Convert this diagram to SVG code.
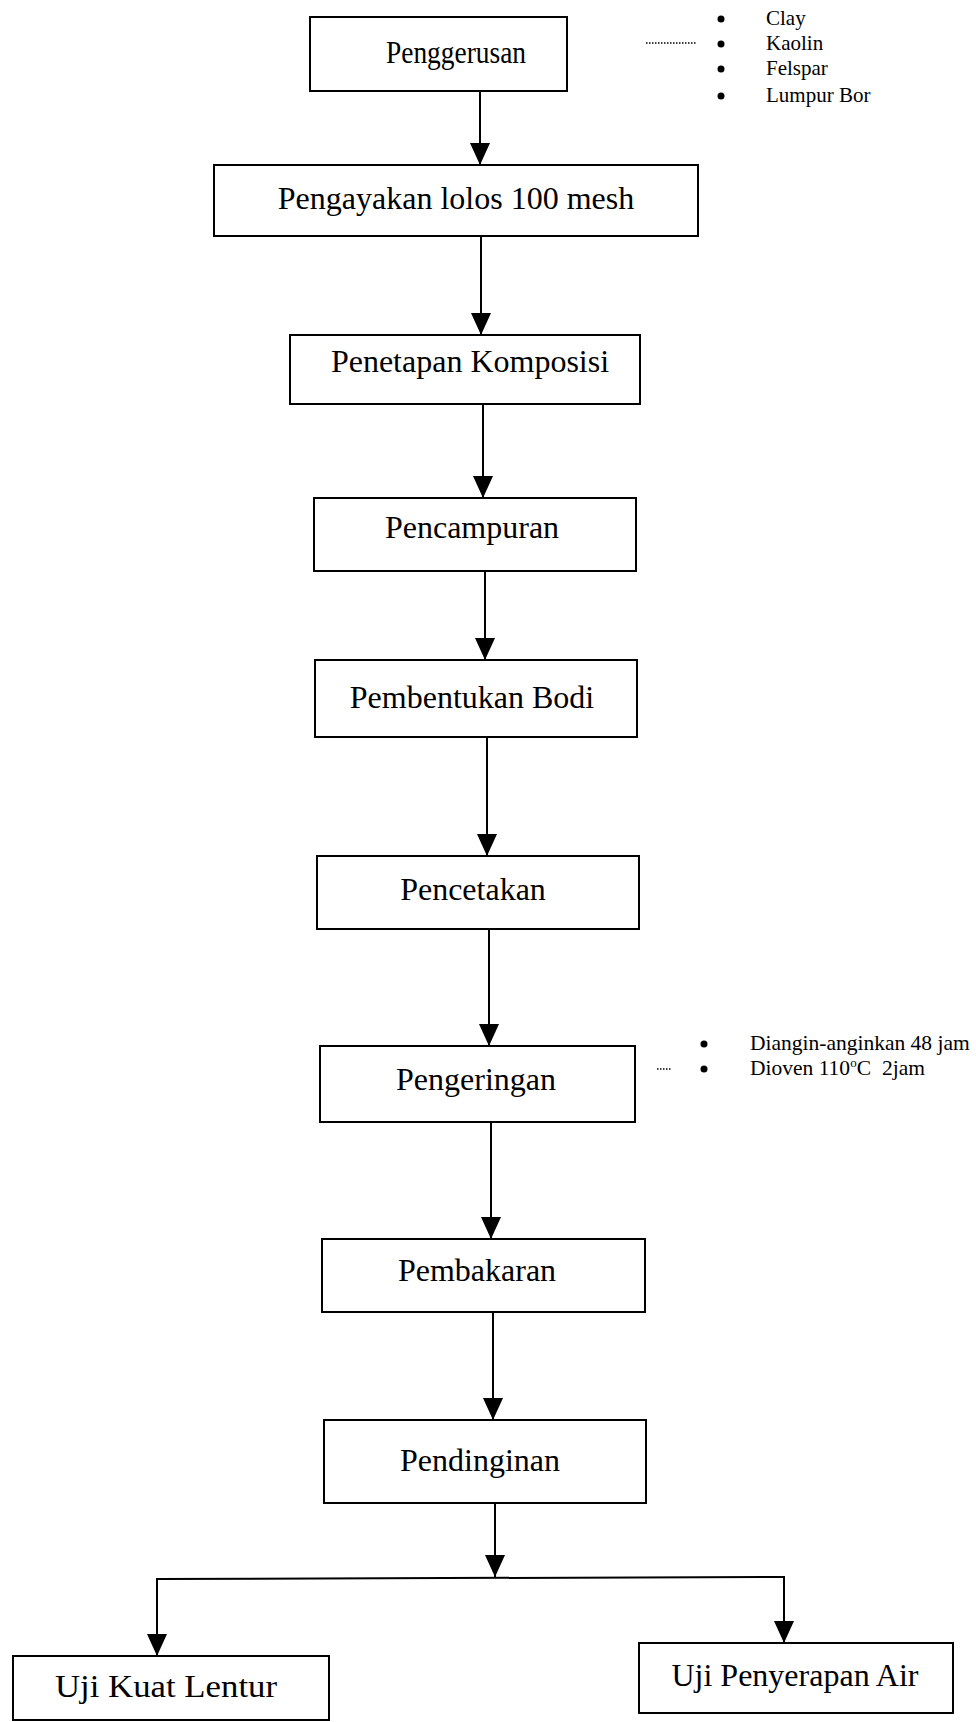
<svg xmlns="http://www.w3.org/2000/svg" width="976" height="1722" viewBox="0 0 976 1722">
<style>
.box{fill:#fff;stroke:#000;stroke-width:2}
.lbl{font-family:"Liberation Serif","Times New Roman",serif;font-size:32px;fill:#000;text-anchor:middle}
.note{font-family:"Liberation Serif","Times New Roman",serif;font-size:21px;fill:#000}
.note2{font-family:"Liberation Serif","Times New Roman",serif;font-size:21.5px;fill:#000}
.ln{fill:none;stroke:#000;stroke-width:2}
.dot{fill:none;stroke:#000;stroke-width:1.5;stroke-dasharray:1.5 1.5}
</style>
<defs>
<marker id="ah" markerUnits="userSpaceOnUse" markerWidth="22" markerHeight="20" refX="22" refY="10" orient="auto">
<path d="M0,0 L22,10 L0,20 z" fill="#000"/>
</marker>
</defs>
<rect width="976" height="1722" fill="#fff"/>
<g id="connectors">
<line class="ln" x1="480" y1="91" x2="480" y2="165" marker-end="url(#ah)"/>
<line class="ln" x1="481" y1="236" x2="481" y2="335" marker-end="url(#ah)"/>
<line class="ln" x1="483" y1="404" x2="483" y2="498" marker-end="url(#ah)"/>
<line class="ln" x1="485" y1="571" x2="485" y2="660" marker-end="url(#ah)"/>
<line class="ln" x1="487" y1="737" x2="487" y2="856" marker-end="url(#ah)"/>
<line class="ln" x1="489" y1="929" x2="489" y2="1046" marker-end="url(#ah)"/>
<line class="ln" x1="491" y1="1122" x2="491" y2="1239" marker-end="url(#ah)"/>
<line class="ln" x1="493" y1="1312" x2="493" y2="1420" marker-end="url(#ah)"/>
<line class="ln" x1="495" y1="1503" x2="495" y2="1577" marker-end="url(#ah)"/>
<polyline class="ln" points="157,1656 157,1579 784,1577 784,1643"/>
<line class="ln" x1="157" y1="1600" x2="157" y2="1656" marker-end="url(#ah)"/>
<line class="ln" x1="784" y1="1600" x2="784" y2="1643" marker-end="url(#ah)"/>
<line class="dot" x1="646" y1="43" x2="696" y2="43"/>
<line class="dot" x1="657" y1="1069" x2="672" y2="1069"/>
</g>
<g id="n1"><rect class="box" x="310" y="17" width="257" height="74"/><text class="lbl" x="456" y="63" textLength="140" lengthAdjust="spacingAndGlyphs">Penggerusan</text></g>
<g id="n1notes">
<circle cx="721" cy="19" r="3.5"/><circle cx="721" cy="44" r="3.5"/><circle cx="721" cy="69" r="3.5"/><circle cx="721" cy="96" r="3.5"/>
<text class="note" x="766" y="25">Clay</text>
<text class="note" x="766" y="50">Kaolin</text>
<text class="note" x="766" y="75">Felspar</text>
<text class="note" x="766" y="102">Lumpur Bor</text>
</g>
<g id="n2"><rect class="box" x="214" y="165" width="484" height="71"/><text class="lbl" x="456" y="209">Pengayakan lolos 100 mesh</text></g>
<g id="n3"><rect class="box" x="290" y="335" width="350" height="69"/><text class="lbl" x="470" y="372">Penetapan Komposisi</text></g>
<g id="n4"><rect class="box" x="314" y="498" width="322" height="73"/><text class="lbl" x="472" y="538">Pencampuran</text></g>
<g id="n5"><rect class="box" x="315" y="660" width="322" height="77"/><text class="lbl" x="472" y="708">Pembentukan Bodi</text></g>
<g id="n6"><rect class="box" x="317" y="856" width="322" height="73"/><text class="lbl" x="473" y="900">Pencetakan</text></g>
<g id="n7"><rect class="box" x="320" y="1046" width="315" height="76"/><text class="lbl" x="476" y="1090">Pengeringan</text></g>
<g id="n7notes">
<circle cx="704" cy="1044" r="3.5"/><circle cx="704" cy="1069" r="3.5"/>
<text class="note2" x="750" y="1050">Diangin-anginkan 48 jam</text>
<text class="note2" x="750" y="1075">Dioven 110<tspan font-size="13" dy="-8">o</tspan><tspan dy="8">C</tspan><tspan dx="11">2jam</tspan></text>
</g>
<g id="n8"><rect class="box" x="322" y="1239" width="323" height="73"/><text class="lbl" x="477" y="1281">Pembakaran</text></g>
<g id="n9"><rect class="box" x="324" y="1420" width="322" height="83"/><text class="lbl" x="480" y="1471">Pendinginan</text></g>
<g id="nL"><rect class="box" x="13" y="1656" width="316" height="64"/><text class="lbl" x="166" y="1697" textLength="222" lengthAdjust="spacingAndGlyphs">Uji Kuat Lentur</text></g>
<g id="nR"><rect class="box" x="639" y="1643" width="314" height="70"/><text class="lbl" x="795" y="1686">Uji Penyerapan Air</text></g>
</svg>
